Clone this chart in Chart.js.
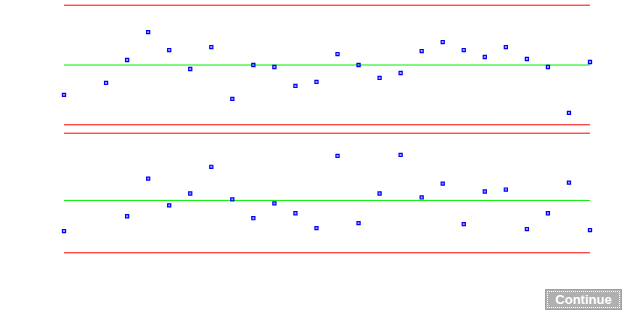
<!DOCTYPE html>
<html>
<head>
<meta charset="utf-8">
<script src="https://cdn.jsdelivr.net/npm/chart.js@4/dist/chart.umd.min.js"></script>
<style>
  html, body { margin: 0; padding: 0; background: #fff; }
  body { width: 632px; height: 336px; position: relative; overflow: hidden; }
  .panel { position: absolute; left: 0; width: 632px; height: 130px; }
  #top { top: 0; }
  #bottom { top: 128px; }
  #continue {
    position: absolute; left: 545px; top: 289px; width: 77px; height: 21px;
    background: #b0b0b0; border: 1px solid #a0a0a0; padding: 0;
    color: #fff; font: bold 13px "Liberation Sans", Arial, sans-serif;
    outline: 1px dotted #fff; outline-offset: -3px;
  }
</style>
</head>
<body>
<div class="panel" id="top"><canvas id="topChart" width="632" height="130"></canvas></div>
<div class="panel" id="bottom"><canvas id="bottomChart" width="632" height="130"></canvas></div>
<button id="continue">Continue</button>
<script>
// sample numbers 1..26
const samples = Array.from({ length: 26 }, (_, i) => i + 1)

// upper panel (individual values, in sigma units)
const topValues = [-1.5, null, -0.9, 0.25, 1.65, 0.75, -0.2, 0.9, -1.7, 0.0, -0.1, -1.05, -0.85,
    0.55, 0.0, -0.65, -0.4, 0.7, 1.15, 0.75, 0.4, 0.9, 0.3, -0.1, -2.4, 0.15]
const topLimits = { ucl: 3, cl: 0, lcl: -3 }

// lower panel
const bottomValues = [-1.55, null, null, -0.8, 1.1, -0.25, 0.35, 1.7, 0.05, -0.9, -0.15, -0.65, -1.4,
    2.25, -1.15, 0.35, 2.3, 0.15, 0.85, -1.2, 0.45, 0.55, -1.45, -0.65, 0.9, -1.5]
const bottomLimits = { ucl: 3.4, cl: 0, lcl: -2.65 }

const limitLine = (value, color) => ({
    type: 'line',
    data: [{ x: 1, y: value }, { x: samples.length, y: value }],
    borderColor: color,
    borderWidth: 1,
    pointRadius: 0,
    clip: false,
    order: 2
})

const drawPanel = (ctx, values, limits) => {
    const points = samples.map((s, i) => ({ x: s, y: values[i] }))
    return new Chart(ctx, {
        type: 'scatter',
        data: {
            datasets: [
                {
                    data: points,
                    pointStyle: 'rect',
                    pointRadius: 2.2,
                    borderWidth: 1.2,
                    borderColor: '#0000ff',
                    backgroundColor: 'rgba(0, 0, 255, 0.35)',
                    clip: false,
                    order: 1
                },
                limitLine(limits.ucl, '#ff0000'),
                limitLine(limits.cl, '#00ee00'),
                limitLine(limits.lcl, '#ff0000'),
            ]
        },
        options: {
            responsive: false,
            animation: false,
            layout: { padding: { left: 64, right: 42, top: 4.5, bottom: 4.5 } },
            plugins: { legend: { display: false }, tooltip: { enabled: false } },
            scales: {
                x: { type: 'linear', display: false, min: 1, max: samples.length },
                y: { display: false, min: limits.lcl, max: limits.ucl }
            }
        }
    })
}

drawPanel(document.getElementById('topChart'), topValues, topLimits)
drawPanel(document.getElementById('bottomChart'), bottomValues, bottomLimits)
</script>
</body>
</html>
